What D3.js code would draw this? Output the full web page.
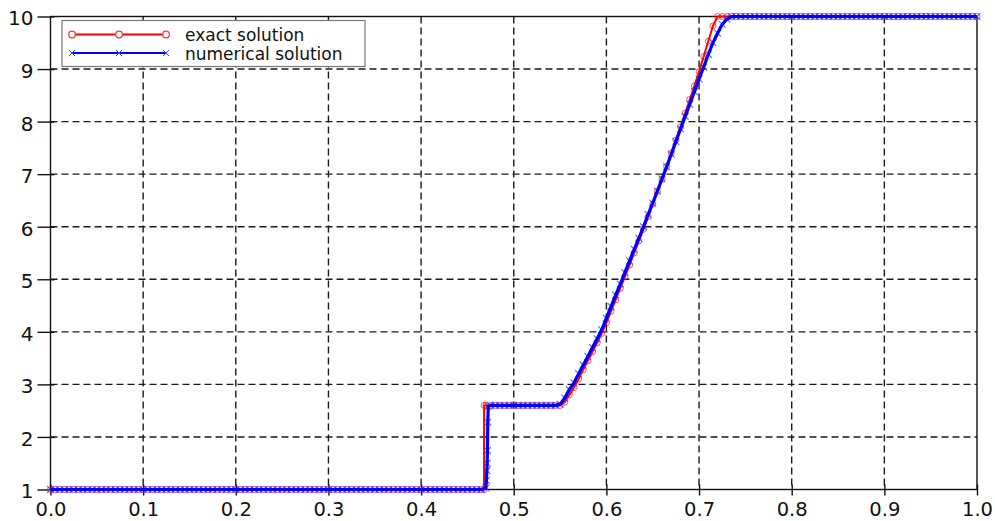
<!DOCTYPE html>
<html>
<head>
<meta charset="utf-8">
<script src="https://cdn.jsdelivr.net/npm/d3@7"></script>
<style>
  html, body { margin: 0; padding: 0; background: #fff; }
  svg { display: block; }
  text { font-family: "DejaVu Sans", sans-serif; }
</style>
</head>
<body>
<svg id="chart" width="995" height="521"></svg>
<script>
// ---------------- data ----------------
const xTicks = [0.0, 0.1, 0.2, 0.3, 0.4, 0.5, 0.6, 0.7, 0.8, 0.9, 1.0];
const yTicks = [1, 2, 3, 4, 5, 6, 7, 8, 9, 10];
const seriesNames = ["exact solution", "numerical solution"];

// sample locations (uniform mesh, h = 0.005)
const gridX = [
  0,0.005,0.01,0.015,0.02,0.025,0.03,0.035,0.04,0.045,
  0.05,0.055,0.06,0.065,0.07,0.075,0.08,0.085,0.09,0.095,
  0.1,0.105,0.11,0.115,0.12,0.125,0.13,0.135,0.14,0.145,
  0.15,0.155,0.16,0.165,0.17,0.175,0.18,0.185,0.19,0.195,
  0.2,0.205,0.21,0.215,0.22,0.225,0.23,0.235,0.24,0.245,
  0.25,0.255,0.26,0.265,0.27,0.275,0.28,0.285,0.29,0.295,
  0.3,0.305,0.31,0.315,0.32,0.325,0.33,0.335,0.34,0.345,
  0.35,0.355,0.36,0.365,0.37,0.375,0.38,0.385,0.39,0.395,
  0.4,0.405,0.41,0.415,0.42,0.425,0.43,0.435,0.44,0.445,
  0.45,0.455,0.46,0.465,0.47,0.475,0.48,0.485,0.49,0.495,
  0.5,0.505,0.51,0.515,0.52,0.525,0.53,0.535,0.54,0.545,
  0.55,0.555,0.56,0.565,0.57,0.575,0.58,0.585,0.59,0.595,
  0.6,0.605,0.61,0.615,0.62,0.625,0.63,0.635,0.64,0.645,
  0.65,0.655,0.66,0.665,0.67,0.675,0.68,0.685,0.69,0.695,
  0.7,0.705,0.71,0.715,0.72,0.725,0.73,0.735,0.74,0.745,
  0.75,0.755,0.76,0.765,0.77,0.775,0.78,0.785,0.79,0.795,
  0.8,0.805,0.81,0.815,0.82,0.825,0.83,0.835,0.84,0.845,
  0.85,0.855,0.86,0.865,0.87,0.875,0.88,0.885,0.89,0.895,
  0.9,0.905,0.91,0.915,0.92,0.925,0.93,0.935,0.94,0.945,
  0.95,0.955,0.96,0.965,0.97,0.975,0.98,0.985,0.99,0.995,
  1
];

const exactY = [
  1,1,1,1,1,1,1,1,1,1,
  1,1,1,1,1,1,1,1,1,1,
  1,1,1,1,1,1,1,1,1,1,
  1,1,1,1,1,1,1,1,1,1,
  1,1,1,1,1,1,1,1,1,1,
  1,1,1,1,1,1,1,1,1,1,
  1,1,1,1,1,1,1,1,1,1,
  1,1,1,1,1,1,1,1,1,1,
  1,1,1,1,1,1,1,1,1,1,
  1,1,1,1,2.6,2.6,2.6,2.6,2.6,2.6,
  2.6,2.6,2.6,2.6,2.6,2.6,2.6,2.6,2.6,2.6,
  2.6,2.66,2.80,2.94,3.10,3.28,3.45,3.62,3.79,3.97,
  4.17,4.39,4.61,4.83,5.05,5.27,5.50,5.73,5.95,6.19,
  6.43,6.67,6.90,7.15,7.40,7.65,7.90,8.16,8.42,8.68,
  8.95,9.24,9.53,9.82,10,10,10,10,10,10,
  10,10,10,10,10,10,10,10,10,10,
  10,10,10,10,10,10,10,10,10,10,
  10,10,10,10,10,10,10,10,10,10,
  10,10,10,10,10,10,10,10,10,10,
  10,10,10,10,10,10,10,10,10,10,
  10
];

const numericalY = [
  1,1,1,1,1,1,1,1,1,1,
  1,1,1,1,1,1,1,1,1,1,
  1,1,1,1,1,1,1,1,1,1,
  1,1,1,1,1,1,1,1,1,1,
  1,1,1,1,1,1,1,1,1,1,
  1,1,1,1,1,1,1,1,1,1,
  1,1,1,1,1,1,1,1,1,1,
  1,1,1,1,1,1,1,1,1,1,
  1,1,1,1,1,1,1,1,1,1,
  1,1,1,1,1.03,2.6,2.6,2.6,2.6,2.6,
  2.6,2.6,2.6,2.6,2.6,2.6,2.6,2.6,2.6,2.6,
  2.62,2.74,2.90,3.03,3.20,3.37,3.53,3.70,3.87,4.04,
  4.26,4.48,4.70,4.91,5.13,5.35,5.57,5.78,6.00,6.23,
  6.45,6.68,6.91,7.14,7.38,7.62,7.86,8.10,8.33,8.57,
  8.81,9.04,9.28,9.50,9.68,9.85,9.95,10,10,10,
  10,10,10,10,10,10,10,10,10,10,
  10,10,10,10,10,10,10,10,10,10,
  10,10,10,10,10,10,10,10,10,10,
  10,10,10,10,10,10,10,10,10,10,
  10,10,10,10,10,10,10,10,10,10,
  10
];

// extra samples resolving the shock
const exactShockX = [0.4679, 0.468];
const exactShockY = [1, 2.6];
const numericalShockX = [0.4705, 0.471, 0.4713, 0.4716, 0.472, 0.4725];
const numericalShockY = [1.17, 1.36, 1.5, 1.74, 2.28, 2.58];

// ---------------- layout ----------------
const svg = d3.select("#chart");
const margin = { left: 50.5, right: 977, top: 16.5, bottom: 489.5 };
const x = d3.scaleLinear().domain([0, 1]).range([margin.left, margin.right]);
const y = d3.scaleLinear().domain([1, 10]).range([margin.bottom, margin.top]);

function buildPoints(xs, ys, ex, ey) {
  const pts = xs.map((v, i) => [v, ys[i]]);
  ex.forEach((v, i) => pts.push([v, ey[i]]));
  pts.sort((a, b) => a[0] - b[0]);
  return pts;
}
const exactPts = buildPoints(gridX, exactY, exactShockX, exactShockY);
const numPts = buildPoints(gridX, numericalY, numericalShockX, numericalShockY);

// grid
const grid = svg.append("g");
xTicks.filter(t => t > 0 && t < 1).forEach(t => {
  grid.append("line")
    .attr("x1", x(t)).attr("x2", x(t))
    .attr("y1", y(10)).attr("y2", y(1))
    .attr("stroke", "#1a1a1a").attr("stroke-width", 1.4)
    .attr("stroke-dasharray", "7,4");
});
yTicks.filter(t => t > 1 && t < 10).forEach(t => {
  grid.append("line")
    .attr("x1", x(0)).attr("x2", x(1))
    .attr("y1", y(t)).attr("y2", y(t))
    .attr("stroke", "#1a1a1a").attr("stroke-width", 1.4)
    .attr("stroke-dasharray", "7,4");
});

// frame
svg.append("rect")
  .attr("x", x(0)).attr("y", y(10))
  .attr("width", x(1) - x(0)).attr("height", y(1) - y(10))
  .attr("fill", "none").attr("stroke", "#111").attr("stroke-width", 1.4);

// axes
const xAxis = d3.axisBottom(x).tickValues(xTicks).tickFormat(d3.format(".1f"))
  .tickSizeInner(6).tickSizeOuter(0).tickPadding(7);
const gx = svg.append("g").attr("transform", `translate(0,${y(1)})`).call(xAxis);
gx.select(".domain").remove();
gx.selectAll(".tick line").attr("stroke", "#111").attr("stroke-width", 1.4).attr("y1", -5);
gx.selectAll(".tick text").attr("font-size", 19.5).attr("fill", "#111")
  .attr("font-family", "DejaVu Sans, sans-serif").attr("dy", "0.71em");

const yAxis = d3.axisLeft(y).tickValues(yTicks).tickFormat(d3.format("d"))
  .tickSizeInner(13).tickSizeOuter(0).tickPadding(4);
const gy = svg.append("g").attr("transform", `translate(${x(0)},0)`).call(yAxis);
gy.select(".domain").remove();
gy.selectAll(".tick line").attr("stroke", "#111").attr("stroke-width", 1.4).attr("x2", -13).attr("x1", 4);
gy.selectAll(".tick text").attr("font-size", 20).attr("fill", "#111")
  .attr("font-family", "DejaVu Sans, sans-serif").attr("dy", "0.42em");

// series
const line = d3.line().x(d => x(d[0])).y(d => y(d[1]));
const red = "#ff0000", blue = "#0000ff";
const crossPath = "M-3.4,-3.4L3.4,3.4M-3.4,3.4L3.4,-3.4";
const legendCross = "M-3.2,-3.2L3.2,3.2M-3.2,3.2L3.2,-3.2";

const gE = svg.append("g");
gE.append("path").datum(exactPts).attr("d", line)
  .attr("fill", "none").attr("stroke", red).attr("stroke-width", 2);
gE.selectAll("circle").data(exactPts).join("circle")
  .attr("cx", d => x(d[0])).attr("cy", d => y(d[1])).attr("r", 3)
  .attr("fill", "none").attr("stroke", red).attr("stroke-width", 0.9).attr("stroke-opacity", 0.75);

const gN = svg.append("g");
gN.selectAll("path.mk").data(numPts).join("path").attr("class", "mk")
  .attr("transform", d => `translate(${x(d[0])},${y(d[1])})`)
  .attr("d", crossPath)
  .attr("fill", "none").attr("stroke", "#3344ff").attr("stroke-width", 1.1).attr("stroke-opacity", 0.8);
gN.append("path").datum(numPts).attr("d", line)
  .attr("fill", "none").attr("stroke", blue).attr("stroke-width", 3.2);

// legend
const lg = svg.append("g");
lg.append("rect").attr("x", 62).attr("y", 20.5).attr("width", 303).attr("height", 46)
  .attr("fill", "#fff").attr("stroke", "#777").attr("stroke-width", 1.2);
const legendRows = [
  { name: seriesNames[0], color: red, yy: 34.5, type: "circle" },
  { name: seriesNames[1], color: blue, yy: 53, type: "cross" }
];
const legendMarkX = [72, 119, 166];
legendRows.forEach(r => {
  lg.append("line").attr("x1", legendMarkX[0]).attr("x2", legendMarkX[2])
    .attr("y1", r.yy).attr("y2", r.yy).attr("stroke", r.color).attr("stroke-width", 2);
  legendMarkX.forEach(mx => {
    if (r.type === "circle") {
      lg.append("circle").attr("cx", mx).attr("cy", r.yy).attr("r", 3.3)
        .attr("fill", "#fff").attr("stroke", "#ff3030").attr("stroke-width", 1.2);
    } else {
      lg.append("path").attr("transform", `translate(${mx},${r.yy})`).attr("d", legendCross)
        .attr("fill", "none").attr("stroke", "#3040ff").attr("stroke-width", 1);
    }
  });
  lg.append("text").attr("x", 185).attr("y", r.yy + 6.5).attr("font-size", 17)
    .attr("fill", "#111").text(r.name);
});
</script>
</body>
</html>
